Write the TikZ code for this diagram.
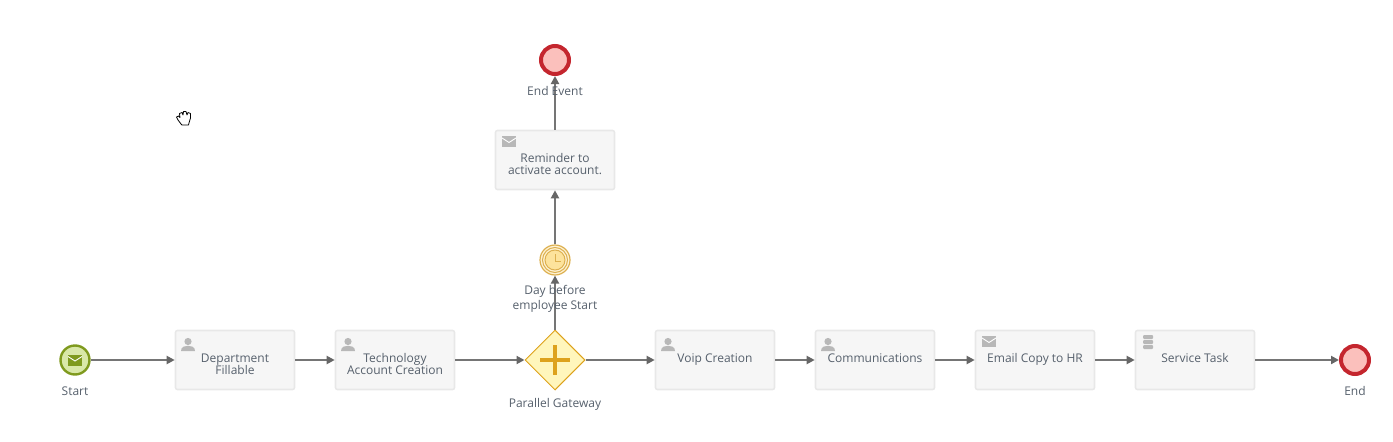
\documentclass[tikz,border=0pt]{standalone}
\usepackage{fontspec}
\setmainfont{Open Sans}
\usetikzlibrary{arrows.meta,shapes.geometric}
\definecolor{txt}{HTML}{56606C}
\definecolor{flow}{HTML}{757575}
\definecolor{head}{HTML}{666666}
\definecolor{taskfill}{HTML}{F6F6F6}
\definecolor{taskline}{HTML}{E8E8E8}
\definecolor{icon}{HTML}{B8B8B8}
\definecolor{startfill}{HTML}{D9E8A8}
\definecolor{startline}{HTML}{7F9A1E}
\definecolor{endline}{HTML}{C4262E}
\definecolor{endfill}{HTML}{FBC0BC}
\definecolor{gateline}{HTML}{DDA21C}
\definecolor{gatefill}{HTML}{FFF6BC}
\definecolor{timerline}{HTML}{DDB050}
\definecolor{timerfill}{HTML}{FDE39C}
\tikzset{
  x=1pt,y=-1pt,
  task/.style={draw=taskline,line width=1.6pt,fill=taskfill,rounded corners=2pt,minimum width=119pt,minimum height=59pt,inner sep=0pt},
  lbl/.style={text=txt,font=\fontsize{12}{12}\selectfont,align=center,inner sep=0pt},
  lblone/.style={lbl,anchor=base},
  flowline/.style={draw=flow,line width=2pt,-{Triangle[length=8pt,width=8pt,color=head]}},
  startev/.style={circle,draw=startline,line width=2.4pt,fill=startfill,minimum size=29pt,inner sep=0pt},
  endev/.style={circle,draw=endline,line width=4pt,fill=endfill,minimum size=28pt,inner sep=0pt},
  gate/.style={diamond,aspect=1,draw=gateline,line width=1pt,fill=gatefill,minimum size=60pt,inner sep=0pt},
}
\newcommand{\usericon}[2]{%
  \fill[icon] (#1,#2-3.5) circle (3.6pt);
  \fill[icon] (#1-7,#2+6) .. controls (#1-7,#2+1.5) and (#1-3,#2+0.8) .. (#1,#2+0.8) .. controls (#1+3,#2+0.8) and (#1+7,#2+1.5) .. (#1+7,#2+6) -- cycle;}
\newcommand{\mailicon}[3]{%
  \fill[#3] (#1-7,#2-5.5) rectangle (#1+7,#2+5.5);
  \draw[white,line width=0.9pt] (#1-7,#2-3.5) -- (#1,#2+1) -- (#1+7,#2-3.5);}
\begin{document}
\begin{tikzpicture}
\useasboundingbox (0,0) rectangle (1393,442);
% tasks
\node[task] (dept) at (235,360) {};
\node[task] (tech) at (395,360) {};
\node[task] (voip) at (715,360) {};
\node[task] (comm) at (875,360) {};
\node[task] (mail) at (1035,360) {};
\node[task] (serv) at (1195,360) {};
\node[task] (rem) at (555,160) {};
% events
\node[startev] (start) at (75,360) {};
\node[endev] (end) at (1355,360) {};
\node[endev] (endtop) at (555,60) {};
\node[gate] (gw) at (555,360) {};
\node[circle,draw=timerline,line width=1.2pt,fill=timerfill!45!white,minimum size=30pt,inner sep=0pt] (timer) at (555,260) {};
% flows
\draw[flowline] (start) -- (dept);
\draw[flowline] (dept) -- (tech);
\draw[flowline] (tech) -- (gw);
\draw[flowline] (gw) -- (voip);
\draw[flowline] (voip) -- (comm);
\draw[flowline] (comm) -- (mail);
\draw[flowline] (mail) -- (serv);
\draw[flowline] (serv) -- (end);
\draw[flowline] (gw) -- (timer);
\draw[flowline] (timer) -- (rem);
\draw[flowline] (rem) -- (endtop);
% icons
\mailicon{75}{360}{startline}
\usericon{188}{345}
\usericon{348}{345}
\usericon{668}{345}
\usericon{828}{345}
\mailicon{989}{341.5}{icon}
\mailicon{509}{141.5}{icon}
\foreach \yy in {337,342,347}{\fill[icon,rounded corners=1pt] (1143,\yy-2) rectangle (1153,\yy+2);}
% gateway plus
\draw[gateline,line width=4pt] (540,360) -- (570,360) (555,345) -- (555,375);
% timer detail
\draw[timerline,line width=1pt,fill=timerfill] (timer.center) circle (10pt);
\draw[timerline,line width=1pt] (timer.center) circle (12.5pt);
\draw[timerline,line width=0.9pt] (555,254) -- (555,261) -- (561,261);
% labels
\node[lbl] (ldept) at (235,364) {Department\\Fillable};
\node[lbl] (ltech) at (395,364) {Technology\\Account Creation};
\node[lblone] (lvoip) at (715,362) {Voip Creation};
\node[lblone] (lcomm) at (875,362) {Communications};
\node[lblone] (lmail) at (1035,362) {Email Copy to HR};
\node[lblone] (lserv) at (1195,362) {Service Task};
\node[lbl] (lrem) at (555,164) {Reminder to\\activate account.};
\node[lblone] (lstart) at (75,395) {Start};
\node[lblone] (lend) at (1355,395) {End};
\node[lblone] (lendtop) at (555,95) {End Event};
\node[lbl,font=\fontsize{12}{15}\selectfont] (ltimer) at (555,299) {Day before\\employee Start};
\node[lblone] (lgw) at (555,407) {Parallel Gateway};
% hand cursor
\draw[black,fill=white,line width=0.8pt,line join=round] (181,124) -- (178,120) -- (176.5,117) -- (178.5,116) -- (180,117.5) -- (179.5,113.5) -- (182,112.5) -- (183,115) -- (183.5,111.5) -- (186,111.5) -- (187,115) -- (188,112.5) -- (190.5,113.5) -- (190.5,118) -- (189,123) -- (188.5,125) -- (182,125) -- cycle;
\end{tikzpicture}
\end{document}
